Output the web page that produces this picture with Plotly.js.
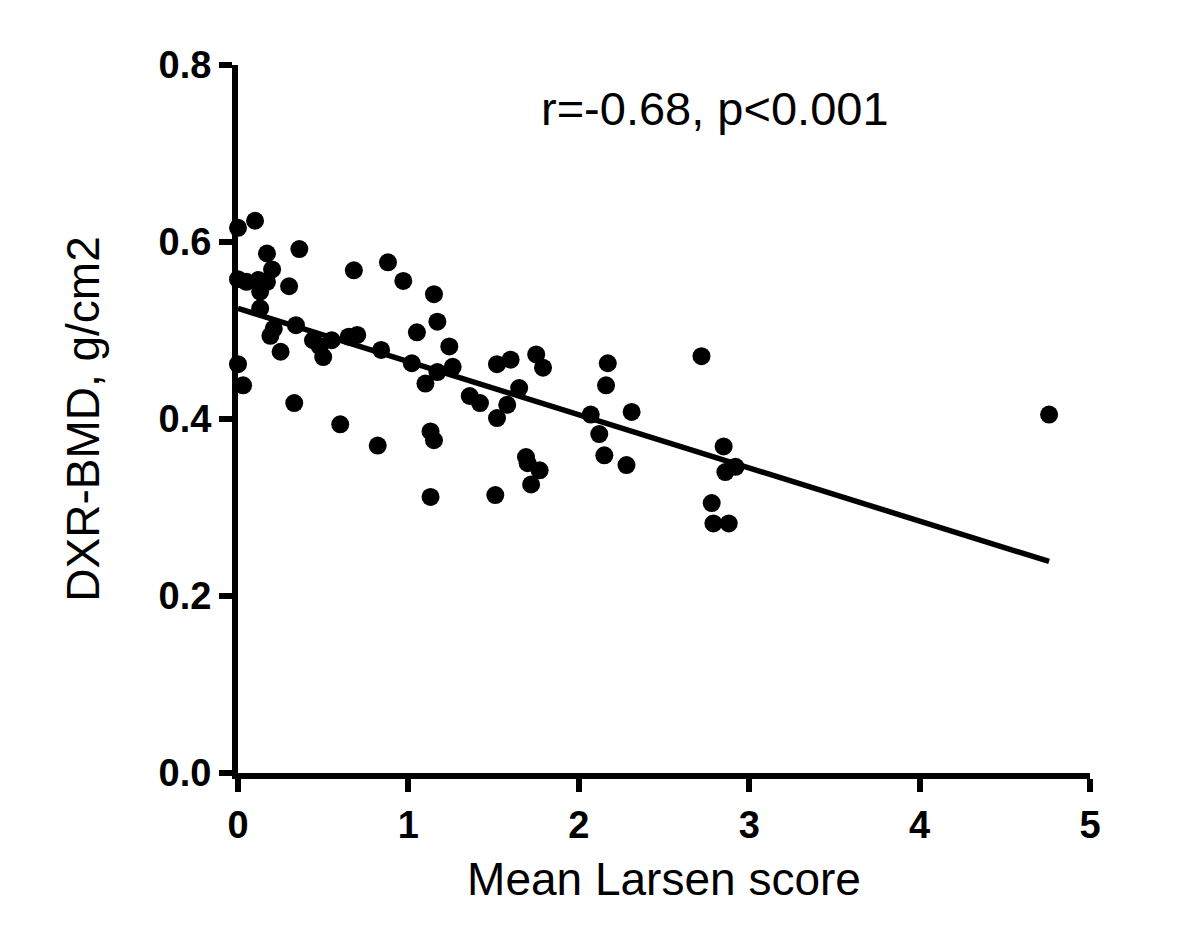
<!DOCTYPE html>
<html>
<head>
<meta charset="utf-8">
<script src="https://cdn.plot.ly/plotly-3.0.1.min.js"></script>
<style>html,body{margin:0;padding:0;background:#fff;}</style>
</head>
<body>
<div id="chart" style="width:1200px;height:927px;"></div>
<script>
// Mean Larsen score (x) and DXR-BMD in g/cm2 (y)
const larsenScore = [
  0, 0.10, 0.17, 0.36, 0.20, 0, 0.05, 0.12, 0.17, 0.13, 0.13, 0.30, 0.68, 0.88, 0.97,
  0.34, 0.21, 0.19, 0.25, 0.44, 0.48, 0.55, 0.50, 0.65, 0.70, 0.84, 0, 0.03, 0.33, 0.60, 0.82,
  1.15, 1.17, 1.05, 1.24, 1.02, 1.17, 1.26, 1.10, 1.36, 1.42, 1.52, 1.60, 1.75, 1.79, 1.65, 1.58, 1.52, 1.13, 1.15, 1.69, 1.70, 1.77, 1.72, 1.13, 1.51,
  2.17, 2.16, 2.07, 2.31, 2.12, 2.15, 2.28, 2.72, 2.85, 2.92, 2.86, 2.78, 2.79, 2.88, 4.76
];
const dxrBmd = [
  0.616, 0.624, 0.587, 0.592, 0.569, 0.558, 0.555, 0.557, 0.555, 0.544, 0.525, 0.550, 0.568, 0.577, 0.556,
  0.506, 0.502, 0.494, 0.476, 0.489, 0.482, 0.489, 0.470, 0.493, 0.495, 0.478, 0.462, 0.438, 0.418, 0.394, 0.370,
  0.541, 0.510, 0.498, 0.482, 0.463, 0.453, 0.459, 0.440, 0.426, 0.418, 0.462, 0.467, 0.473, 0.458, 0.435, 0.416, 0.401, 0.386, 0.376, 0.357, 0.350, 0.342, 0.326, 0.312, 0.314,
  0.463, 0.438, 0.405, 0.408, 0.383, 0.359, 0.348, 0.471, 0.369, 0.346, 0.340, 0.305, 0.282, 0.282, 0.405
];
// Regression line end points
const fitX = [0, 4.76];
const fitY = [0.525, 0.239];

const xTicks = [0, 1, 2, 3, 4, 5];
const xTickText = ['0', '1', '2', '3', '4', '5'];
const yTicks = [0, 0.2, 0.4, 0.6, 0.8];
const yTickText = ['0.0', '0.2', '0.4', '0.6', '0.8'];

const annotationText = 'r=-0.68, p<0.001';
const xTitle = 'Mean Larsen score';
const yTitle = 'DXR-BMD, g/cm2';

const FONT = 'Liberation Sans, Arial, sans-serif';

const traces = [
  {
    x: larsenScore, y: dxrBmd, type: 'scatter', mode: 'markers',
    marker: {size: 18, color: '#000000'},
    cliponaxis: false, hoverinfo: 'skip', showlegend: false
  },
  {
    x: fitX, y: fitY, type: 'scatter', mode: 'lines',
    line: {color: '#000000', width: 5.5},
    cliponaxis: false, hoverinfo: 'skip', showlegend: false
  }
];

const axisCommon = {
  showline: true, linecolor: '#000000', linewidth: 6,
  ticks: 'outside', ticklen: 13, tickwidth: 6, tickcolor: '#000000',
  showgrid: false, zeroline: false, fixedrange: true,
  tickfont: {family: FONT, size: 38, color: '#000000', weight: 'bold'},
  tickmode: 'array'
};

const layout = {
  width: 1200, height: 927,
  paper_bgcolor: '#ffffff', plot_bgcolor: '#ffffff',
  margin: {l: 238, r: 110, t: 65, b: 154},
  xaxis: Object.assign({}, axisCommon, {
    range: [0, 5], tickvals: xTicks, ticktext: xTickText,
    title: {text: xTitle, font: {family: FONT, size: 46, color: '#000000'}, standoff: 20}
  }),
  yaxis: Object.assign({}, axisCommon, {
    range: [0, 0.8], tickvals: yTicks, ticktext: yTickText,
    title: {text: yTitle, font: {family: FONT, size: 46, color: '#000000'}, standoff: 46}
  }),
  annotations: [{
    x: 2.8, y: 0.751, xref: 'x', yref: 'y', text: annotationText,
    showarrow: false, xanchor: 'center', yanchor: 'middle',
    font: {family: FONT, size: 47, color: '#000000'}
  }],
  showlegend: false
};

Plotly.newPlot('chart', traces, layout, {displayModeBar: false, staticPlot: true});
</script>
</body>
</html>
